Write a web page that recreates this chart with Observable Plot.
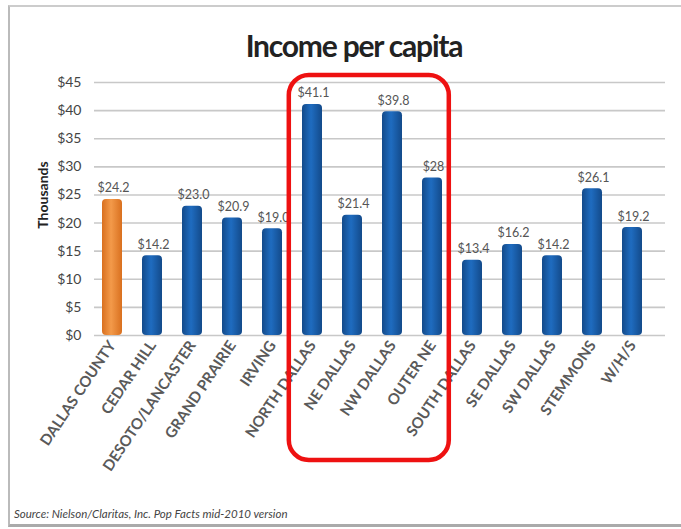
<!DOCTYPE html>
<html>
<head>
<meta charset="utf-8">
<script src="https://cdn.jsdelivr.net/npm/d3@7"></script>
<script src="https://cdn.jsdelivr.net/npm/@observablehq/plot@0.6"></script>
<style>
  html, body { margin: 0; padding: 0; background: #fff; }
  #frame {
    position: absolute; left: 8px; top: 5px; width: 690px; height: 517px;
    border-left: 2px solid #bbb; border-top: 2px solid #ccc; border-bottom: 3px solid #aaa;
    box-sizing: content-box;
  }
  #title {
    position: absolute; left: 0; width: 708px; top: 27px; text-align: center;
    font-family: Lato, "Open Sans", sans-serif; font-weight: bold; font-size: 30px; color: #222;
    letter-spacing: -1.2px;
  }
  #chart { position: absolute; left: 0; top: 70px; }
  #caption {
    position: absolute; left: 14px; top: 507px;
    font-family: Lato, "Open Sans", sans-serif; font-style: italic; font-size: 11.5px; color: #444;
  }
</style>
</head>
<body>
<div id="frame"></div>
<div id="title">Income per capita</div>
<div id="chart"></div>
<div id="caption">Source: Nielson/Claritas, Inc. Pop Facts mid-2010 version</div>
<script>
const areas = ["DALLAS COUNTY", "CEDAR HILL", "DESOTO/LANCASTER", "GRAND PRAIRIE", "IRVING",
  "NORTH DALLAS", "NE DALLAS", "NW DALLAS", "OUTER NE", "SOUTH DALLAS", "SE DALLAS",
  "SW DALLAS", "STEMMONS", "W/H/S"];
const incomes = [24.2, 14.2, 23.0, 20.9, 19.0, 41.1, 21.4, 39.8, 28, 13.4, 16.2, 14.2, 26.1, 19.2];
const valueLabels = ["$24.2", "$14.2", "$23.0", "$20.9", "$19.0", "$41.1", "$21.4", "$39.8", "$28",
  "$13.4", "$16.2", "$14.2", "$26.1", "$19.2"];
const yTicks = [0, 5, 10, 15, 20, 25, 30, 35, 40, 45];
const highlighted = ["NORTH DALLAS", "OUTER NE"];
const overall = "DALLAS COUNTY";

(function () {
const data = areas.map((a, i) => ({area: a, value: incomes[i], label: valueLabels[i]}));
const font = "Lato, 'Open Sans', sans-serif";

const chart = Plot.plot({
  width: 681,
  height: 418,
  marginTop: 12,
  marginLeft: 94,
  marginRight: 31,
  marginBottom: 153,
  style: {fontFamily: font, fontSize: "13px", color: "#444", background: "transparent", overflow: "visible"},
  x: {domain: areas, paddingInner: 0.5, paddingOuter: 0.2, label: null},
  y: {domain: [0, 45], ticks: yTicks, label: null},
  marks: [
    Plot.ruleY(yTicks, {stroke: "#c8c8c8", strokeWidth: 1.6, insetRight: -15}),
    Plot.barY(data, {
      x: "area", y: "value", rx: 4,
      fill: d => d.area === overall ? "url(#gOrange)" : "url(#gBlue)"
    }),
    Plot.text(data, {
      x: "area", y: "value", text: "label", dy: -11, dx: 1,
      fill: "#555", fontSize: 12.5, fontFamily: font
    }),
    Plot.axisY({
      ticks: yTicks, tickSize: 0, tickPadding: 13, tickFormat: d => "$" + d,
      fontSize: 14, fill: "#444", label: "Thousands", labelAnchor: "center",
      labelArrow: "none", labelOffset: 56
    }),
    Plot.axisX({
      tickSize: 0, tickRotate: -56, tickPadding: 7, fontSize: 15, fill: "#5a5a5a",
      fontWeight: "bold", label: null
    })
  ]
});

d3.select(chart).selectAll("[aria-label='y-axis label'] text")
  .attr("font-weight", "bold").attr("font-size", 14).attr("fill", "#222").attr("dx", 14);

const defs = d3.select(chart).insert("defs", ":first-child");
function grad(id, edge, mid) {
  const g = defs.append("linearGradient").attr("id", id).attr("x1", 0).attr("x2", 1).attr("y1", 0).attr("y2", 0);
  g.append("stop").attr("offset", "0%").attr("stop-color", edge);
  g.append("stop").attr("offset", "45%").attr("stop-color", mid);
  g.append("stop").attr("offset", "100%").attr("stop-color", edge);
}
grad("gBlue", "#134a8a", "#1f6cc0");
grad("gOrange", "#d9701f", "#f39a4a");

const xs = chart.scale("x"), ys = chart.scale("y");
const step = xs.step;
const boxLeft = xs.apply(highlighted[0]) + xs.bandwidth / 2 - 0.58 * step;
const boxRight = xs.apply(highlighted[1]) + xs.bandwidth / 2 + 0.42 * step;
const boxTop = ys.apply(45) - 7;
const boxBottom = ys.apply(0) + 125;
d3.select(chart).append("rect")
  .attr("x", boxLeft).attr("y", boxTop).attr("width", boxRight - boxLeft).attr("height", boxBottom - boxTop)
  .attr("rx", 20).attr("fill", "none").attr("stroke", "#ee1111").attr("stroke-width", 4.5);

document.getElementById("chart").append(chart);
})();
</script>
</body>
</html>
